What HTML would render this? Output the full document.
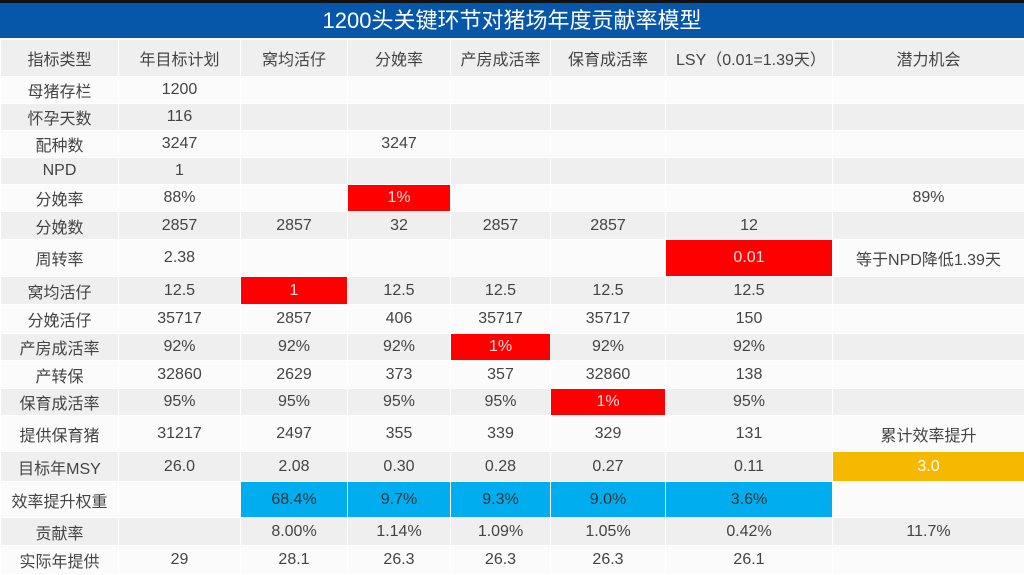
<!DOCTYPE html>
<html><head><meta charset="utf-8"><style>
body{margin:0;width:1024px;height:575px;overflow:hidden;background:#fff;font-family:"Liberation Sans","Noto Sans CJK SC",sans-serif;}
.t{position:absolute;left:0;top:0;width:1024px;height:38px;background:#0656aa;border-top:3px solid #111;box-sizing:border-box;color:#fff;font-size:22px;text-align:center;line-height:35px;}
table{position:absolute;left:0;top:39px;width:1024px;border-collapse:collapse;table-layout:fixed;}
td{border:1px solid #fff;text-align:center;font-size:16px;color:#444;padding:0;white-space:nowrap;overflow:hidden;}
tr:nth-child(odd) td{background:#efefef;}
tr:nth-child(even) td{background:#fbfbfb;}
td.r{background:#fe0000!important;color:#fde0e0;}
td.b{background:#00aeef!important;color:#333;}
td.y{background:#f7b900!important;color:#fff;}
</style></head><body>
<div class="t">1200头关键环节对猪场年度贡献率模型</div>
<table>
<colgroup><col style="width:118px"><col style="width:122px"><col style="width:107px"><col style="width:103px"><col style="width:100px"><col style="width:115px"><col style="width:167px"><col style="width:192px"></colgroup>
<tr style="height:37px"><td>指标类型</td><td>年目标计划</td><td>窝均活仔</td><td>分娩率</td><td>产房成活率</td><td>保育成活率</td><td style="text-align:left;padding-left:10px">LSY（0.01=1.39天）</td><td>潜力机会</td></tr>
<tr style="height:27px"><td>母猪存栏</td><td>1200</td><td></td><td></td><td></td><td></td><td></td><td></td></tr>
<tr style="height:27px"><td>怀孕天数</td><td>116</td><td></td><td></td><td></td><td></td><td></td><td></td></tr>
<tr style="height:27px"><td>配种数</td><td>3247</td><td></td><td>3247</td><td></td><td></td><td></td><td></td></tr>
<tr style="height:27px"><td>NPD</td><td>1</td><td></td><td></td><td></td><td></td><td></td><td></td></tr>
<tr style="height:27px"><td>分娩率</td><td>88%</td><td></td><td class="r">1%</td><td></td><td></td><td></td><td>89%</td></tr>
<tr style="height:28px"><td>分娩数</td><td>2857</td><td>2857</td><td>32</td><td>2857</td><td>2857</td><td>12</td><td></td></tr>
<tr style="height:37px"><td>周转率</td><td>2.38</td><td></td><td></td><td></td><td></td><td class="r">0.01</td><td>等于NPD降低1.39天</td></tr>
<tr style="height:28px"><td>窝均活仔</td><td>12.5</td><td class="r">1</td><td>12.5</td><td>12.5</td><td>12.5</td><td>12.5</td><td></td></tr>
<tr style="height:29px"><td>分娩活仔</td><td>35717</td><td>2857</td><td>406</td><td>35717</td><td>35717</td><td>150</td><td></td></tr>
<tr style="height:27px"><td>产房成活率</td><td>92%</td><td>92%</td><td>92%</td><td class="r">1%</td><td>92%</td><td>92%</td><td></td></tr>
<tr style="height:28px"><td>产转保</td><td>32860</td><td>2629</td><td>373</td><td>357</td><td>32860</td><td>138</td><td></td></tr>
<tr style="height:27px"><td>保育成活率</td><td>95%</td><td>95%</td><td>95%</td><td>95%</td><td class="r">1%</td><td>95%</td><td></td></tr>
<tr style="height:36px"><td>提供保育猪</td><td>31217</td><td>2497</td><td>355</td><td>339</td><td>329</td><td>131</td><td>累计效率提升</td></tr>
<tr style="height:30px"><td>目标年MSY</td><td>26.0</td><td>2.08</td><td>0.30</td><td>0.28</td><td>0.27</td><td>0.11</td><td class="y">3.0</td></tr>
<tr style="height:36px"><td>效率提升权重</td><td></td><td class="b">68.4%</td><td class="b">9.7%</td><td class="b">9.3%</td><td class="b">9.0%</td><td class="b">3.6%</td><td></td></tr>
<tr style="height:28px"><td>贡献率</td><td></td><td>8.00%</td><td>1.14%</td><td>1.09%</td><td>1.05%</td><td>0.42%</td><td>11.7%</td></tr>
<tr style="height:29px"><td>实际年提供</td><td>29</td><td>28.1</td><td>26.3</td><td>26.3</td><td>26.3</td><td>26.1</td><td></td></tr>
</table>
</body></html>
